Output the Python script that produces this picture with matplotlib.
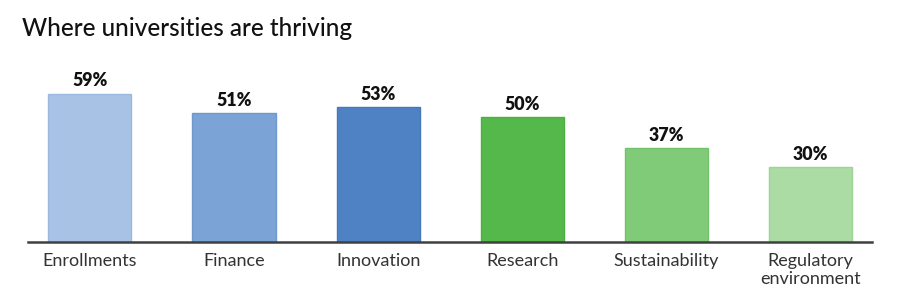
import matplotlib
matplotlib.use("Agg")
import matplotlib.pyplot as plt

categories = ["Enrollments", "Finance", "Innovation", "Research", "Sustainability", "Regulatory\nenvironment"]
# bar heights (percent)
values = [59.2, 51.3, 53.9, 49.9, 37.5, 29.9]
# printed labels
value_labels = ["59%", "51%", "53%", "50%", "37%", "30%"]
colors = ["#A7C2E4", "#7BA3D5", "#4F82C5", "#55B84A", "#80CB78", "#AADCA3"]
edges = ["#9BB8DE", "#6F98CE", "#4577BB", "#4DAF42", "#75C26C", "#9ED397"]

plt.rcParams['font.family'] = ['Lato', 'DejaVu Sans']

fig = plt.figure(figsize=(9, 3.01), dpi=100)
ax = fig.add_axes([28/900, (301-241.5)/301, (872-28)/900, 181.5/301])

x = list(range(len(categories)))
ax.bar(x, values, width=0.577, color=colors, edgecolor=edges, linewidth=1.0, zorder=2)
for xi, v, lab in zip(x, values, value_labels):
    ax.annotate(lab, (xi, v), xytext=(0, 3), textcoords="offset points",
                ha="center", va="bottom", fontsize=12.8, fontweight="heavy", color="#111111")

ax.set_xlim(-0.428, 5.425)
ax.set_ylim(0, 72.6)
ax.set_xticks(x)
ax.set_xticklabels(categories, fontsize=13, color="#333333", linespacing=1.15)
ax.tick_params(axis="x", length=0, pad=8)
ax.set_yticks([])
for s in ["top", "right", "left"]:
    ax.spines[s].set_visible(False)
ax.spines["bottom"].set_color("#404040")
ax.spines["bottom"].set_linewidth(1.8)
ax.spines["bottom"].set_zorder(3)

fig.text(22/900, 1 - 29/301, "Where universities are thriving", fontsize=17.5,
         color="#111111", ha="left", va="center", fontweight="medium")

fig.savefig("out.png", dpi=100)
